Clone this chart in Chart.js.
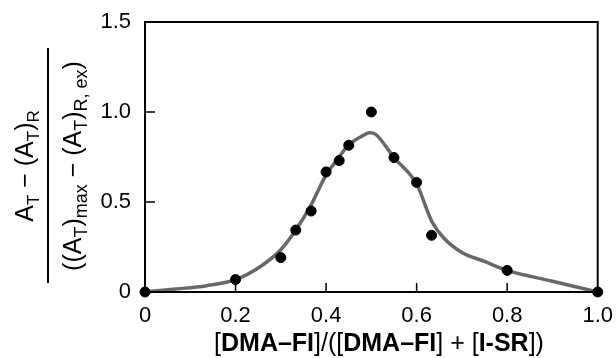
<!DOCTYPE html>
<html>
<head>
<meta charset="utf-8">
<script src="https://cdn.jsdelivr.net/npm/chart.js@4"></script>
<style>
  html, body { margin: 0; padding: 0; background: #fff; }
  #wrap { width: 616px; height: 358px; position: relative; }
</style>
</head>
<body>
<div id="wrap"><canvas id="jobChart"></canvas></div>
<script>
// measured points (Job plot)
const moleFraction = [0, 0.2, 0.3, 0.333, 0.367, 0.4, 0.429, 0.45, 0.5, 0.55, 0.6, 0.633, 0.8, 1.0];
const absorbance = [0, 0.069, 0.191, 0.344, 0.45, 0.667, 0.73, 0.815, 1.0, 0.747, 0.609, 0.315, 0.12, 0];

// fitted curve
const fitX = [0, 0.062, 0.136, 0.2, 0.245, 0.3, 0.333, 0.366, 0.4, 0.426, 0.449, 0.475, 0.497, 0.51, 0.55, 0.6, 0.634, 0.66, 0.7, 0.75, 0.8, 0.9, 1.0];
const fitY = [0, 0.015, 0.035, 0.069, 0.125, 0.235, 0.344, 0.48, 0.65, 0.74, 0.815, 0.86, 0.885, 0.875, 0.747, 0.6, 0.39, 0.3, 0.22, 0.17, 0.12, 0.06, 0];

const xTicks = [0, 0.2, 0.4, 0.6, 0.8, 1.0];
const yTicks = [0, 0.5, 1.0, 1.5];

const FONT = '"Liberation Sans", Arial, Helvetica, sans-serif';

// draws a run of text pieces ({t, b: bold, s: subscript}) centred on (0,0) baseline
function richText(ctx, parts, size, subSize) {
  const fontOf = p => (p.b ? 'bold ' : '') + (p.s ? subSize : size) + 'px ' + FONT;
  let total = 0;
  parts.forEach(p => { ctx.font = fontOf(p); total += ctx.measureText(p.t).width; });
  let x = -total / 2;
  ctx.textAlign = 'left';
  ctx.textBaseline = 'alphabetic';
  parts.forEach(p => {
    ctx.font = fontOf(p);
    ctx.fillText(p.t, x, p.s ? size * 0.22 : 0);
    x += ctx.measureText(p.t).width;
  });
}

const frame = {
  id: 'frame',
  afterDraw(chart) {
    const { ctx, chartArea: a, scales } = chart;
    ctx.save();
    ctx.strokeStyle = '#000';
    ctx.fillStyle = '#000';
    ctx.lineWidth = 2;
    ctx.strokeRect(a.left, a.top, a.right - a.left, a.bottom - a.top);
    // inner ticks
    ctx.lineWidth = 1.5;
    ctx.beginPath();
    [0.2, 0.4, 0.6, 0.8].forEach(v => {
      const px = scales.x.getPixelForValue(v);
      ctx.moveTo(px, a.bottom);
      ctx.lineTo(px, a.bottom - 9);
    });
    [0.5, 1.0].forEach(v => {
      const py = scales.y.getPixelForValue(v);
      ctx.moveTo(a.left, py);
      ctx.lineTo(a.left + 10, py);
    });
    ctx.stroke();

    // x title
    ctx.save();
    ctx.translate(379, 351);
    richText(ctx, [
      { t: '[' }, { t: 'DMA–FI', b: true }, { t: ']/([' }, { t: 'DMA–FI', b: true },
      { t: '] + [' }, { t: 'I-SR', b: true }, { t: '])' }
    ], 25, 25);
    ctx.restore();

    // y title as a fraction
    const cy = 166;
    ctx.save();
    ctx.translate(33, cy);
    ctx.rotate(-Math.PI / 2);
    richText(ctx, [
      { t: 'A' }, { t: 'T', s: true }, { t: ' − (A' }, { t: 'T', s: true }, { t: ')' }, { t: 'R', s: true }
    ], 25, 17);
    ctx.restore();

    ctx.save();
    ctx.translate(81, cy);
    ctx.rotate(-Math.PI / 2);
    richText(ctx, [
      { t: '((A' }, { t: 'T', s: true }, { t: ')' }, { t: 'max', s: true }, { t: ' − (A' },
      { t: 'T', s: true }, { t: ')' }, { t: 'R, ex', s: true }, { t: ')' }
    ], 25, 18);
    ctx.restore();

    ctx.lineWidth = 2;
    ctx.beginPath();
    ctx.moveTo(48, 48);
    ctx.lineTo(48, 283);
    ctx.stroke();
    ctx.restore();
  }
};

new Chart(document.getElementById('jobChart'), {
  type: 'scatter',
  data: {
    datasets: [
      {
        label: 'data',
        data: moleFraction.map((x, i) => ({ x, y: absorbance[i] })),
        backgroundColor: '#000',
        borderColor: '#000',
        pointRadius: 5,
        pointHoverRadius: 5,
        clip: false,
        order: 0,
      },
      {
        label: 'fit',
        data: fitX.map((x, i) => ({ x, y: fitY[i] })),
        showLine: true,
        borderColor: '#686868',
        borderWidth: 3.5,
        pointRadius: 0,
        cubicInterpolationMode: 'monotone',
        clip: false,
        order: 1,
      },
    ]
  },
  options: {
    responsive: true,
    maintainAspectRatio: false,
    animation: false,
    layout: {
      padding: { top: 22, right: 17, left: 0, bottom: 0 },
    },
    plugins: {
      legend: { display: false },
      tooltip: { enabled: false },
    },
    scales: {
      x: {
        type: 'linear',
        min: 0,
        max: 1,
        afterFit: scale => { scale.height = 66; },
        afterBuildTicks: scale => { scale.ticks = xTicks.map(v => ({ value: v })); },
        grid: { display: false },
        border: { display: false },
        ticks: {
          padding: 3,
          color: '#000',
          font: { family: FONT, size: 22 },
          callback: v => (v === 0 ? '0' : v.toFixed(1)),
        },
      },
      y: {
        type: 'linear',
        min: 0,
        max: 1.5,
        afterFit: scale => { scale.width = 145; },
        afterBuildTicks: scale => { scale.ticks = yTicks.map(v => ({ value: v })); },
        grid: { display: false },
        border: { display: false },
        ticks: {
          padding: 6,
          color: '#000',
          font: { family: FONT, size: 22 },
          callback: v => (v === 0 ? '0' : v.toFixed(1)),
        },
      },
    },
  },
  plugins: [frame],
});
</script>
</body>
</html>
